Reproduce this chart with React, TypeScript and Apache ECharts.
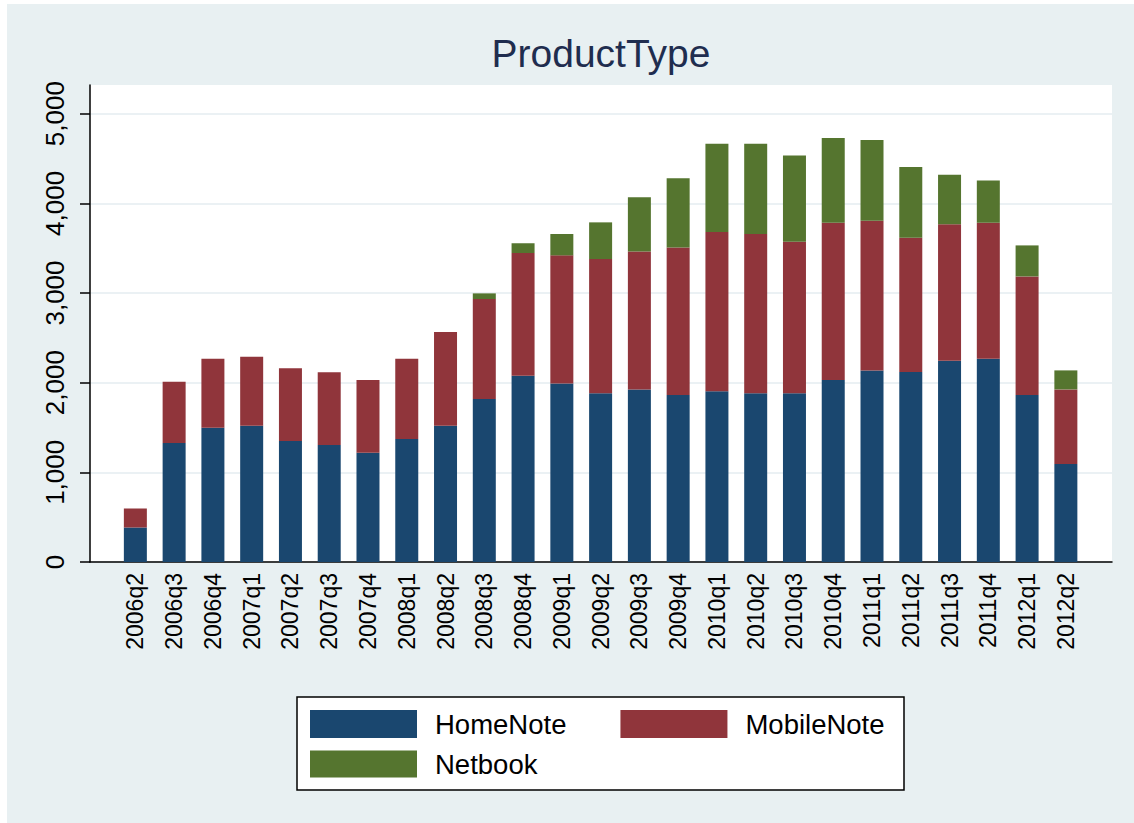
import React, { useEffect, useRef } from "react";
import * as echarts from "echarts";

const categories = [
  "2006q2", "2006q3", "2006q4", "2007q1", "2007q2", "2007q3", "2007q4",
  "2008q1", "2008q2", "2008q3", "2008q4", "2009q1", "2009q2", "2009q3",
  "2009q4", "2010q1", "2010q2", "2010q3", "2010q4", "2011q1", "2011q2",
  "2011q3", "2011q4", "2012q1", "2012q2",
];
const homeNote = [
  386, 1327, 1498, 1520, 1349, 1305, 1219, 1372, 1520, 1818, 2078, 1992, 1881,
  1925, 1863, 1903, 1881, 1881, 2030, 2137, 2119, 2245, 2268, 1863, 1093,
];
const mobileNote = [
  212, 684, 769, 770, 811, 810, 811, 895, 1045, 1115, 1368, 1428, 1498, 1539,
  1646, 1777, 1777, 1691, 1754, 1670, 1498, 1521, 1516, 1322, 832,
];
const netbook = [
  0, 0, 0, 0, 0, 0, 0, 0, 0, 63, 108, 238, 409, 603, 770, 986, 1008, 963, 945,
  900, 789, 554, 472, 346, 212,
];
const yTicks = [0, 1000, 2000, 3000, 4000, 5000];
const seriesNames = ["HomeNote", "MobileNote", "Netbook"];
const seriesColors = ["#1a476f", "#90353b", "#55752f"];

const FONT = "Arial, 'Liberation Sans', sans-serif";

export default function App() {
  const ref = useRef<HTMLDivElement>(null);
  useEffect(() => {
    const chart = echarts.init(ref.current!, null, { renderer: "svg" });
    const idx = categories.map((_, i) => i);
    const values = [homeNote, mobileNote, netbook];
    const series = seriesNames.map((name, s) => ({
      name,
      type: "bar",
      stack: "total",
      barWidth: 23,
      encode: { x: 1, y: 0 },
      itemStyle: { color: seriesColors[s] },
      data: values[s].map((v, i) => [v, i]),
    }));
    chart.setOption({
      animation: false,
      backgroundColor: "#e8f0f2",
      textStyle: { fontFamily: FONT },
      title: {
        text: "ProductType",
        left: 601,
        top: 34,
        padding: 0,
        textAlign: "center",
        textStyle: { fontSize: 39, fontWeight: "normal", color: "#1f2d4f", fontFamily: FONT },
      },
      grid: {
        left: 90,
        right: 22,
        top: 85,
        bottom: 261,
        show: true,
        backgroundColor: "#ffffff",
        borderWidth: 0,
      },
      xAxis: {
        type: "value",
        min: -1.17,
        max: 25.19,
        axisLine: { show: true, onZero: false, lineStyle: { color: "#000", width: 1.5 } },
        axisTick: { show: false },
        splitLine: { show: false },
        axisLabel: {
          customValues: idx,
          formatter: (v: number) => categories[Math.round(v)] ?? "",
          rotate: 90,
          fontSize: 23,
          margin: 11,
          color: "#000",
          fontFamily: FONT,
        },
      },
      yAxis: {
        type: "value",
        min: 0,
        max: 5320,
        axisLine: { show: true, onZero: false, lineStyle: { color: "#000", width: 1.5 } },
        axisTick: {
          show: true,
          length: 10,
          customValues: yTicks,
          lineStyle: { color: "#000", width: 1.5 },
        },
        axisLabel: {
          customValues: yTicks,
          rotate: 90,
          fontSize: 26,
          margin: 22,
          color: "#000",
          fontFamily: FONT,
          formatter: (v: number) => v.toLocaleString("en-US"),
        },
        splitLine: { show: true, lineStyle: { color: "#e4edf0", width: 1.5 } },
      },
      legend: [
        {
          data: ["HomeNote", "MobileNote"],
          left: 310,
          top: 710,
          padding: 0,
          itemWidth: 107,
          itemHeight: 28,
          itemGap: 54,
          icon: "rect",
          textStyle: { fontSize: 27.5, color: "#000", fontFamily: FONT, padding: [0, 0, 0, 13] },
        },
        {
          data: ["Netbook"],
          left: 310,
          top: 750,
          padding: 0,
          itemWidth: 107,
          itemHeight: 27,
          icon: "rect",
          textStyle: { fontSize: 27.5, color: "#000", fontFamily: FONT, padding: [0, 0, 0, 13] },
        },
      ],
      graphic: [
        {
          type: "rect",
          shape: { x: 297, y: 697, width: 607, height: 93 },
          style: { fill: "#ffffff", stroke: "#000", lineWidth: 1.5 },
          z: 0,
          silent: true,
        },
        {
          type: "rect",
          shape: { x: 0, y: 0, width: 7, height: 823 },
          style: { fill: "#ffffff" },
          silent: true,
        },
        {
          type: "rect",
          shape: { x: 0, y: 0, width: 1134, height: 4 },
          style: { fill: "#ffffff" },
          silent: true,
        },
      ],
      series,
    });
    return () => chart.dispose();
  }, []);
  return (
    <div
      ref={ref}
      style={{ position: "fixed", left: 0, top: 0, width: 1134, height: 823 }}
    />
  );
}
